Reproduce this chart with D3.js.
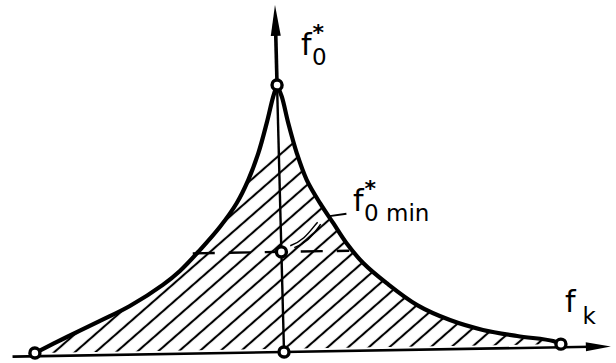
<!DOCTYPE html>
<html>
<head>
<meta charset="utf-8">
<script src="https://cdn.jsdelivr.net/npm/d3@7"></script>
<style>
  html, body { margin: 0; padding: 0; background: #fff; }
  svg { display: block; }
  text { font-family: "DejaVu Sans", sans-serif; fill: #000; }
</style>
</head>
<body>
<svg id="chart" width="616" height="363"></svg>
<script>
// Left boundary of the admissible region (f_k, f0*), from the apex down to the left end
const leftFk = [0, -0.015, -0.041, -0.074, -0.113, -0.157, -0.219, -0.294, -0.368, -0.431, -0.552, -0.661, -0.782, -0.899];
const leftF0 = [1, 0.957, 0.858, 0.746, 0.646, 0.560, 0.473, 0.387, 0.310, 0.259, 0.182, 0.128, 0.070, 0.012];

// Right boundary, from the apex down to the right end
const rightFk = [0, 0.016, 0.037, 0.065, 0.098, 0.144, 0.190, 0.236, 0.295, 0.377, 0.485, 0.602, 0.720, 0.843, 0.972, 1.0];
const rightF0 = [1, 0.956, 0.856, 0.743, 0.643, 0.555, 0.479, 0.403, 0.327, 0.251, 0.167, 0.109, 0.070, 0.045, 0.024, 0.012];

// Marked points: apex, f0*min, origin, left end, right end
const markFk = [0, 0, 0, -0.899, 1.0];
const markF0 = [1, 0.375, 0, 0.012, 0.012];

// Minimum level and its dashed extent
const f0min = 0.375;
const f0minFk = [-0.32, 0.245];

// Axis extents
const fkAxis = [-0.98, 1.18];
const f0Axis = [0, 1.3];

const svg = d3.select("#chart");
const x = d3.scaleLinear().domain([-1, 1]).range([7, 561]);
const y = d3.scaleLinear().domain([0, 1]).range([352, 85]);
const ox = x(0), oy = y(0);

// slight skew of the whole sketch
const g = svg.append("g")
  .attr("transform", `translate(${ox},${oy}) matrix(1,-0.017,0.026,1,0,0) translate(${-ox},${-oy})`);

// diagonal hatching at 40 degrees
const hatchAngle = 40, hatchGap = 13.5;
const defs = svg.append("defs");
const pat = defs.append("pattern")
  .attr("id", "hatch").attr("patternUnits", "userSpaceOnUse")
  .attr("x", 0).attr("y", 11.5).attr("width", 10).attr("height", hatchGap)
  .attr("patternTransform", `rotate(${-hatchAngle})`);
pat.append("line")
  .attr("x1", -1).attr("x2", 11).attr("y1", hatchGap / 2).attr("y2", hatchGap / 2)
  .attr("stroke", "#000").attr("stroke-width", 2.1);

// hatching stops at the line running through this point, parallel to the hatch
const s = Math.sin(hatchAngle * Math.PI / 180), c = Math.cos(hatchAngle * Math.PI / 180);
const cutV = x(-0.04) * s + y(0.70) * c - 4;
const cutY = X => (cutV - X * s) / c;
defs.append("clipPath").attr("id", "topcut")
  .append("path")
  .attr("d", `M-50,${cutY(-50)} L700,${cutY(700)} L700,600 L-50,600 Z`);

const leftPts = leftFk.map((v, i) => [v, leftF0[i]]);
const rightPts = rightFk.map((v, i) => [v, rightF0[i]]);

const line = d3.line().x(d => x(d[0])).y(d => y(d[1])).curve(d3.curveCatmullRom.alpha(0.5));

// region outline: down the left boundary, along the base, up the right boundary
const regionPath = line(leftPts) + "L" + line(rightPts.slice().reverse()).slice(1);

g.append("g").attr("clip-path", "url(#topcut)")
  .append("path")
  .attr("d", regionPath)
  .attr("fill", "url(#hatch)");

// dashed level of f0*min
g.append("line")
  .attr("x1", x(f0minFk[0])).attr("x2", x(f0minFk[1]))
  .attr("y1", y(f0min)).attr("y2", y(f0min))
  .attr("stroke", "#000").attr("stroke-width", 2.4)
  .attr("stroke-dasharray", "22,14");

// horizontal axis f_k
g.append("line")
  .attr("x1", x(fkAxis[0])).attr("x2", x(fkAxis[1]) - 20)
  .attr("y1", oy).attr("y2", oy)
  .attr("stroke", "#000").attr("stroke-width", 2.6);
g.append("path")
  .attr("d", `M${x(fkAxis[1])},${oy} L${x(fkAxis[1]) - 25},${oy - 4.5} L${x(fkAxis[1]) - 25},${oy + 4.5} Z`)
  .attr("fill", "#000");

// vertical axis f0*
g.append("line")
  .attr("x1", ox).attr("x2", ox)
  .attr("y1", y(f0Axis[0])).attr("y2", y(1))
  .attr("stroke", "#000").attr("stroke-width", 2.4);
g.append("line")
  .attr("x1", ox).attr("x2", ox)
  .attr("y1", y(1)).attr("y2", y(f0Axis[1]) + 25)
  .attr("stroke", "#000").attr("stroke-width", 3.6);
g.append("path")
  .attr("d", `M${ox},${y(f0Axis[1])} L${ox - 5},${y(f0Axis[1]) + 31} L${ox + 5},${y(f0Axis[1]) + 31} Z`)
  .attr("fill", "#000");

// boundaries
[leftPts, rightPts].forEach(pts => {
  g.append("path")
    .attr("d", line(pts))
    .attr("fill", "none").attr("stroke", "#000")
    .attr("stroke-width", 4.2).attr("stroke-linecap", "round").attr("stroke-linejoin", "round");
});

// leader from the f0*min label to its point
const mx = x(0), my = y(f0min);
g.append("path")
  .attr("d", `M${mx + 66},${my - 37} L${mx + 49},${my - 35}`)
  .attr("fill", "none").attr("stroke", "#000").attr("stroke-width", 1.8);
g.append("path")
  .attr("d", `M${mx + 37},${my - 29} C${mx + 30},${my - 22} ${mx + 24},${my - 11} ${mx + 9},${my - 6} ` +
             `M${mx + 40},${my - 27} C${mx + 34},${my - 18} ${mx + 26},${my - 8} ${mx + 13},${my - 4}`)
  .attr("fill", "none").attr("stroke", "#000").attr("stroke-width", 1.5);

// marked points
g.selectAll("circle.mark")
  .data(markFk.map((v, i) => [v, markF0[i]]))
  .join("circle")
  .attr("class", "mark")
  .attr("cx", d => x(d[0])).attr("cy", d => y(d[1]))
  .attr("r", 5)
  .attr("fill", "#fff").attr("stroke", "#000").attr("stroke-width", 3.4);

// labels: f with optional starred superscript and a subscript, all in one text element
function label(px, py, sub, star) {
  const t = svg.append("text").attr("x", px).attr("y", py);
  t.append("tspan").attr("font-size", 30).text("f");
  if (star) {
    t.append("tspan").attr("font-size", 22).attr("font-weight", "bold")
      .attr("dx", 1).attr("dy", -15).text("*");
    t.append("tspan").attr("font-size", 23).attr("dx", -12).attr("dy", 25).text(sub);
  } else {
    t.append("tspan").attr("font-size", 23).attr("dx", 7).attr("dy", 12).text(sub);
  }
}
label(301, 55, "0", true);
label(353, 211, "0 min", true);
label(565, 312, "k", false);
</script>
</body>
</html>
